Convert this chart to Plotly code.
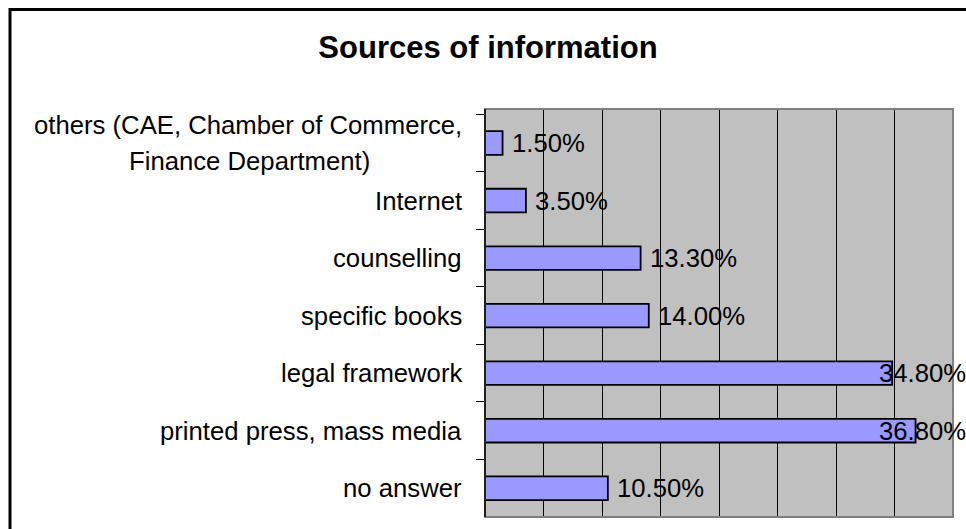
import plotly.graph_objects as go

# Data (top to bottom as drawn)
categories = [
    "others (CAE, Chamber of Commerce, Finance Department)",
    "Internet",
    "counselling",
    "specific books",
    "legal framework",
    "printed press, mass media",
    "no answer",
]
values = [1.5, 3.5, 13.3, 14.0, 34.8, 36.8, 10.5]
value_labels = ["1.50%", "3.50%", "13.30%", "14.00%", "34.80%", "36.80%", "10.50%"]
x_ticks = [0, 5, 10, 15, 20, 25, 30, 35, 40]

# Layout geometry (pixels)
W, H = 966, 529
PL, PR, PT, PB = 485, 953, 109, 517          # plot area
FONT = "Liberation Sans, Arial, sans-serif"
FS = 25.7
XMAX = 40
px_per_unit = (PR - PL) / XMAX


def px_to_paper_x(px):
    return (px - PL) / (PR - PL)


def px_to_paper_y(py):
    return (PB - py) / (PB - PT)


fig = go.Figure()
fig.add_trace(go.Bar(
    x=values,
    y=categories,
    orientation="h",
    width=0.41,
    marker=dict(color="#9999FF", line=dict(color="black", width=1.8)),
    hoverinfo="x+y",
))

annotations = []

# Value labels: placed right of the bar, pulled back inside the frame when too wide
label_gap = 7
frame_right = 968
digit_w = {"0": .556, "1": .556, "2": .556, "3": .556, "4": .556, "5": .556,
           "6": .556, "7": .556, "8": .556, "9": .556, ".": .278, "%": .889}
for cat, v, lab in zip(categories, values, value_labels):
    tw = sum(digit_w.get(c, .556) for c in lab) * FS
    end_px = PL + v * px_per_unit + label_gap
    if end_px + tw > frame_right:
        annotations.append(dict(x=px_to_paper_x(frame_right), xref="paper", y=cat, yref="y",
                                text=lab, showarrow=False, xanchor="right", yanchor="middle",
                                font=dict(family=FONT, size=FS, color="black")))
    else:
        annotations.append(dict(x=v, xref="x", y=cat, yref="y", xshift=label_gap,
                                text=lab, showarrow=False, xanchor="left", yanchor="middle",
                                font=dict(family=FONT, size=FS, color="black")))

# Category labels (right aligned, long one split on two centred lines)
cat_shift = -21
line1 = "others (CAE, Chamber of Commerce,"
line2 = "Finance Department)"
line1_w = 16.671 * FS
annotations.append(dict(x=0, xref="paper", y=categories[0], yref="y", xshift=cat_shift, yshift=18,
                        text=line1, showarrow=False, xanchor="right", yanchor="middle",
                        font=dict(family=FONT, size=FS, color="black")))
annotations.append(dict(x=0, xref="paper", y=categories[0], yref="y",
                        xshift=cat_shift - line1_w / 2, yshift=-18,
                        text=line2, showarrow=False, xanchor="center", yanchor="middle",
                        font=dict(family=FONT, size=FS, color="black")))
for cat in categories[1:]:
    annotations.append(dict(x=0, xref="paper", y=cat, yref="y", xshift=cat_shift,
                            text=cat, showarrow=False, xanchor="right", yanchor="middle",
                            font=dict(family=FONT, size=FS, color="black")))

shapes = [
    # grey border around plot area
    dict(type="rect", xref="paper", yref="paper", x0=0, x1=1, y0=0, y1=1,
         line=dict(color="#808080", width=2), layer="above"),
    # left value axis line
    dict(type="line", xref="paper", yref="paper", x0=0, x1=0, y0=0, y1=1,
         line=dict(color="black", width=1.5), layer="above"),
    # outer chart frame
    dict(type="rect", xref="paper", yref="paper",
         x0=px_to_paper_x(10), x1=px_to_paper_x(W + 10),
         y0=px_to_paper_y(H + 10), y1=px_to_paper_y(9.5),
         line=dict(color="black", width=3), layer="above"),
]

fig.update_layout(
    width=W, height=H,
    margin=dict(l=PL, r=W - PR, t=PT, b=H - PB, pad=0),
    paper_bgcolor="white",
    plot_bgcolor="#C0C0C0",
    showlegend=False,
    font=dict(family=FONT, size=FS, color="black"),
    title=dict(text="<b>Sources of information</b>", xref="container", x=488 / W,
               xanchor="center", y=1 - 47 / H, yref="container", yanchor="middle",
               font=dict(family=FONT, size=31, color="black")),
    xaxis=dict(range=[0, XMAX], tickvals=x_ticks, showticklabels=False,
               showgrid=True, gridcolor="black", gridwidth=1,
               zeroline=False, showline=False, ticks=""),
    yaxis=dict(categoryorder="array", categoryarray=categories, autorange="reversed",
               showticklabels=False, showgrid=False, zeroline=False, showline=False,
               ticks="outside", ticklen=8, tickwidth=1.2, tickcolor="black",
               tickson="boundaries"),
    annotations=annotations,
    shapes=shapes,
    bargap=0.59,
)

fig.write_html("out.html")
